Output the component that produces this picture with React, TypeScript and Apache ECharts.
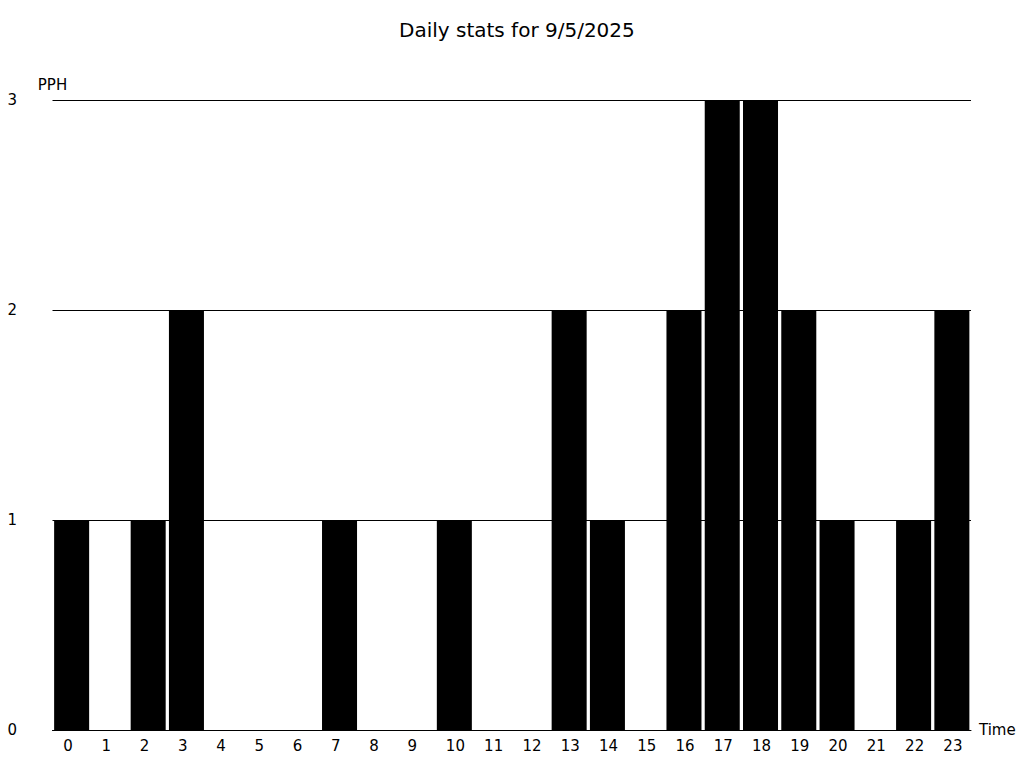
import React, { useEffect, useRef } from "react";
import * as echarts from "echarts";

const titleText = "Daily stats for 9/5/2025";
const hours = ["0","1","2","3","4","5","6","7","8","9","10","11","12","13","14","15","16","17","18","19","20","21","22","23"];
const pph = [1,0,1,2,0,0,0,1,0,0,1,0,0,2,1,0,2,3,3,2,1,0,1,2];
const yName = "PPH";
const xName = "Time";

const FONT = "DejaVu Sans";
const FS = 15;

export default function App() {
  const ref = useRef<HTMLDivElement>(null);
  useEffect(() => {
    if (!ref.current) return;
    const chart = echarts.init(ref.current, null, { renderer: "svg" });
    chart.setOption({
      animation: false,
      backgroundColor: "#fff",
      textStyle: { fontFamily: FONT, color: "#000" },
      title: {
        text: titleText,
        left: 399,
        top: 20,
        padding: 0,
        textStyle: { fontFamily: FONT, fontSize: 20, fontWeight: "normal", color: "#000" },
      },
      grid: { left: 52.5, right: 53, top: 100, bottom: 38, containLabel: false },
      xAxis: {
        type: "category",
        data: hours,
        name: xName,
        nameLocation: "end",
        nameGap: 8,
        nameTextStyle: { fontFamily: FONT, fontSize: FS, color: "#000" },
        axisLine: { show: true, lineStyle: { color: "#000", width: 1 } },
        axisTick: { show: false },
        splitLine: { show: false },
        axisLabel: {
          interval: 0,
          margin: 8,
          align: "center",
          formatter: (v: string) => `{a|${v}}`,
          rich: {
            a: { width: 17, align: "left", fontFamily: FONT, fontSize: FS, color: "#000" },
          },
        },
      },
      yAxis: {
        type: "value",
        min: 0,
        max: 3,
        interval: 1,
        name: yName,
        nameLocation: "end",
        nameGap: 8,
        nameTextStyle: { fontFamily: FONT, fontSize: FS, color: "#000", align: "center" },
        axisLine: { show: false },
        axisTick: { show: false },
        splitLine: { show: true, lineStyle: { color: "#000", width: 1 } },
        axisLabel: { align: "left", margin: 45, fontFamily: FONT, fontSize: FS, color: "#000" },
      },
      series: [
        {
          type: "bar",
          data: pph,
          barWidth: "91.5%",
          itemStyle: { color: "#000" },
        },
      ],
    });
    return () => chart.dispose();
  }, []);
  return (
    <div
      ref={ref}
      style={{ position: "fixed", left: 0, top: 0, width: 1024, height: 768 }}
    />
  );
}
